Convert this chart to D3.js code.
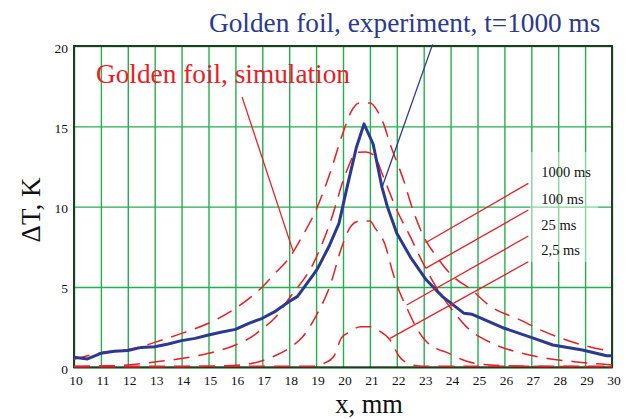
<!DOCTYPE html>
<html lang="en">
<meta charset="utf-8">
<head>
    <script src="https://d3js.org/d3.v7.min.js"></script>
    <style>
        body { margin: 0; background: #fff; }
        text { font-family: "Liberation Serif", "Times New Roman", serif; }
    </style>
</head>
<body>
<div id="chart"></div>
<script>
// Data (x in mm, dT in K)
const expX = [10,10.5,11,11.5,12,12.5,13,13.5,14,14.5,15,15.5,16,16.5,17,17.5,18,18.3,18.5,19,19.15,19.5,19.85,20.15,20.5,20.78,21.12,21.45,21.65,22,22.5,23.1,23.7,24.5,24.8,25,26,27.1,27.8,28.9,29.8,30];
const expY = [0.62,0.52,0.87,1.0,1.05,1.24,1.28,1.45,1.66,1.8,2.01,2.2,2.36,2.74,3.05,3.5,4.1,4.4,4.85,6.0,6.45,7.6,8.96,11.2,13.7,15.15,13.9,11.2,10.0,8.34,6.88,5.43,4.4,3.36,3.3,3.15,2.43,1.8,1.39,1.08,0.72,0.72];

const sim1000X = [10,11,12,12.7,13,14,15,16,17,17.5,18,18.5,19,19.5,20,20.3,20.6,21,21.3,21.5,21.75,22.25,22.6,23,23.45,24.1,24.7,25.5,26.6,27.4,28.3,29.3,30];
const sim1000Y = [0.5,0.91,1.11,1.39,1.55,2.11,2.74,3.67,5.0,5.9,6.8,8.2,9.8,12.0,14.6,15.9,16.45,16.45,15.9,15.2,13.9,11.66,9.79,8.13,6.95,5.64,4.92,3.77,2.94,2.28,1.7,1.22,1.0];

const sim100X = [10,11,12,13,14,15,16,16.7,17,17.45,18,18.9,19.5,20.15,20.5,20.85,21.15,21.5,22,22.5,23,23.5,24,24.6,25.6,26.6,27.6,28.6,29.6,30];
const sim100Y = [0.05,0.08,0.14,0.33,0.55,0.87,1.39,2.0,2.4,3.04,4.3,6.47,8.9,12.28,13.38,13.4,13.2,11.86,9.79,8.13,6.4,4.9,3.7,2.5,1.45,0.9,0.55,0.35,0.2,0.15];

const sim25X = [10,12,14,15,16.2,17,17.45,18,18.5,19,19.5,20,20.3,20.6,21,21.2,21.55,21.85,22.1,22.4,22.75,23.1,23.5,23.9,24.4,24.9,26,27,28,30];
const sim25Y = [0.03,0.03,0.04,0.06,0.14,0.41,0.7,1.2,1.9,3.2,5.0,7.7,8.8,9.1,9.1,8.65,7.7,5.9,4.7,3.6,2.4,1.6,1.15,0.9,0.5,0.25,0.1,0.06,0.05,0.04];

const sim2X = [10,12,14,16,18,18.9,19.3,19.65,19.95,20.25,20.65,21.0,21.3,21.75,22.1,22.6,23,25,27,30];
const sim2Y = [0.07,0.07,0.07,0.07,0.07,0.07,0.25,0.66,1.85,2.2,2.53,2.53,2.32,1.7,0.66,0.14,0.07,0.07,0.07,0.07];

const legendLabels = ["1000 ms", "100 ms", "25 ms", "2,5 ms"];
// leader lines: start (legend side) and end (on curve), data units
const leaderStart = [[26.89,11.45],[26.89,9.79],[26.89,8.17],[26.89,6.57]];
const leaderEnd = [[23.07,7.75],[23.07,6.16],[22.37,3.88],[21.75,1.8]];

const xTicks = d3.range(10, 31, 1);
const yTicks = [0, 5, 10, 15, 20];

// Dimensions
const W = 633, H = 419;
const x = d3.scaleLinear().domain([10, 30]).range([74, 612]);
const y = d3.scaleLinear().domain([0, 20]).range([367.3, 46]);

const svg = d3.select("#chart").append("svg")
    .attr("width", W).attr("height", H);

// grid
svg.append("g")
    .attr("transform", "translate(0," + y(0) + ")")
    .call(d3.axisBottom(x).tickValues(xTicks).tickSize(-(y(0) - y(20))).tickFormat(""))
    .call(g => g.select(".domain").remove())
    .call(g => g.selectAll("line").attr("stroke", "#22b14c").attr("stroke-width", 1.4));
svg.append("g")
    .attr("transform", "translate(" + x(10) + ",0)")
    .call(d3.axisLeft(y).tickValues(yTicks).tickSize(-(x(30) - x(10))).tickFormat(""))
    .call(g => g.select(".domain").remove())
    .call(g => g.selectAll("line").attr("stroke", "#22b14c").attr("stroke-width", 1.4));

// legend backing box (semi transparent)
svg.append("rect")
    .attr("x", 530).attr("y", 152).attr("width", 68).attr("height", 110)
    .attr("fill", "#fff").attr("opacity", 0.45);

// frame
svg.append("rect")
    .attr("x", x(10)).attr("y", y(20))
    .attr("width", x(30) - x(10)).attr("height", y(0) - y(20))
    .attr("fill", "none").attr("stroke", "#1f3d1f").attr("stroke-width", 2);

// tick labels
svg.append("g").selectAll("text").data(xTicks).join("text")
    .attr("x", d => x(d) + 2).attr("y", 385)
    .attr("text-anchor", "middle").attr("font-size", 13.5).attr("fill", "#111")
    .text(d => d);
svg.append("g").selectAll("text").data(yTicks).join("text")
    .attr("x", 68).attr("y", d => y(d) + 6.5)
    .attr("text-anchor", "end").attr("font-size", 13.5).attr("fill", "#111")
    .text(d => d);

// axis titles
svg.append("text").attr("x", 369).attr("y", 413)
    .attr("text-anchor", "middle").attr("font-size", 26.5).attr("fill", "#111")
    .text("x, mm");
svg.append("text")
    .attr("transform", "translate(40,210) rotate(-90)")
    .attr("text-anchor", "middle").attr("font-size", 27).attr("fill", "#111")
    .text("ΔT, K");

// curves
const line = (xs, ys, curve) => d3.line()
    .x(i => x(xs[i])).y(i => y(ys[i]))
    .curve(curve)(d3.range(xs.length));

const sims = [[sim1000X, sim1000Y], [sim100X, sim100Y], [sim25X, sim25Y], [sim2X, sim2Y]];
sims.forEach(s => {
    svg.append("path")
        .attr("d", line(s[0], s[1], d3.curveMonotoneX))
        .attr("fill", "none").attr("stroke", "#ed1c24")
        .attr("stroke-width", 1.5).attr("stroke-dasharray", "16,9");
});

svg.append("path")
    .attr("d", line(expX, expY, d3.curveLinear))
    .attr("fill", "none").attr("stroke", "#2b3990")
    .attr("stroke-width", 3).attr("stroke-linejoin", "round");

// legend leaders + labels
leaderStart.forEach((s, i) => {
    svg.append("line")
        .attr("x1", x(s[0])).attr("y1", y(s[1]))
        .attr("x2", x(leaderEnd[i][0])).attr("y2", y(leaderEnd[i][1]))
        .attr("stroke", "#ed1c24").attr("stroke-width", 1.3);
    svg.append("text")
        .attr("x", x(s[0]) + 13).attr("y", y(s[1]) - 6.5)
        .attr("font-size", 14.5).attr("fill", "#111")
        .text(legendLabels[i]);
});

// titles and pointers
svg.append("line")
    .attr("x1", x(16.25)).attr("y1", y(16.82)).attr("x2", x(18.15)).attr("y2", y(7.2))
    .attr("stroke", "#ed1c24").attr("stroke-width", 1.3);
svg.append("line")
    .attr("x1", x(23.33)).attr("y1", y(20.1)).attr("x2", x(21.44)).attr("y2", y(11.14))
    .attr("stroke", "#2b3990").attr("stroke-width", 1.3);

svg.append("text").attr("x", 209).attr("y", 32)
    .attr("font-size", 27.3).attr("fill", "#2b3990")
    .text("Golden foil, experiment, t=1000 ms");
svg.append("text").attr("x", 96).attr("y", 83)
    .attr("font-size", 27.3).attr("fill", "#ed1c24")
    .text("Golden foil, simulation");
</script>
</body>
</html>
